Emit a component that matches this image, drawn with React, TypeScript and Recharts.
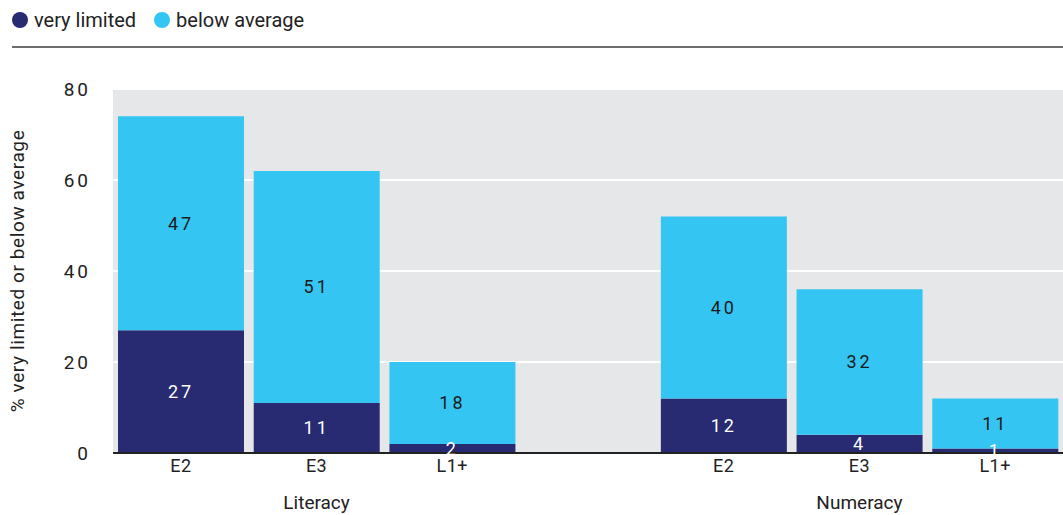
import React from 'react';
import { BarChart, Bar, XAxis, YAxis, CartesianGrid, LabelList } from 'recharts';

const categories = ['E2', 'E3', 'L1+', '', 'E2', 'E3', 'L1+'];
const groups = ['', 'Literacy', '', '', '', 'Numeracy', ''];
const veryLimited = [27, 11, 2, null, 12, 4, 1];
const belowAverage = [47, 51, 18, null, 40, 32, 11];
const yTicks = [0, 20, 40, 60, 80];

const NAVY = '#282a72';
const CYAN = '#34c5f2';
const FONT = 'Roboto, "DejaVu Sans", sans-serif';

const data = categories.map((c, i) => ({
  key: `${i}`,
  cat: c,
  group: groups[i],
  veryLimited: veryLimited[i],
  belowAverage: belowAverage[i],
}));

const CatTick = (props: any) => {
  const { x, y, payload } = props;
  const row = data[payload.index];
  if (!row) return null;
  return (
    <g>
      <text x={x} y={y + 11} textAnchor="middle" fontSize={18} fill="#222" fontFamily={FONT} letterSpacing={0.5}>
        {row.cat}
      </text>
      {row.group && (
        <text x={x} y={y + 48} textAnchor="middle" fontSize={19} fill="#222" fontFamily={FONT}>
          {row.group}
        </text>
      )}
    </g>
  );
};

const App: React.FC = () => {
  return (
    <div style={{ position: 'absolute', left: 0, top: 0, width: 1063, height: 515, background: '#fff', fontFamily: FONT }}>
      <div style={{ position: 'absolute', left: 12, top: 8, display: 'flex', alignItems: 'center', fontSize: 20, color: '#222' }}>
        <span style={{ width: 16, height: 16, borderRadius: 8, background: NAVY, display: 'inline-block', marginRight: 6 }} />
        <span style={{ marginRight: 18 }}>very limited</span>
        <span style={{ width: 16, height: 16, borderRadius: 8, background: CYAN, display: 'inline-block', marginRight: 6 }} />
        <span>below average</span>
      </div>
      <div style={{ position: 'absolute', left: 12, top: 46, width: 1051, height: 2, background: '#6d6d6d' }} />
      <div style={{ position: 'absolute', left: 0, top: 0 }}>
        <BarChart
          width={1063}
          height={515}
          data={data}
          margin={{ top: 89, right: 0, left: 0, bottom: 0 }}
          barCategoryGap={5}
        >
          <CartesianGrid fill="#e6e7e9" stroke="#ffffff" strokeWidth={2} vertical={false} />
          <XAxis
            dataKey="key"
            height={62}
            tickLine={false}
            axisLine={{ stroke: '#222', strokeWidth: 2 }}
            tick={<CatTick />}
            interval={0}
          />
          <YAxis
            width={113}
            domain={[0, 80]}
            ticks={yTicks}
            tickLine={false}
            axisLine={false}
            tickMargin={16}
            tick={{ fontSize: 19, fill: '#222', fontFamily: FONT, letterSpacing: 3 }}
            label={{
              value: '% very limited or below average',
              angle: -90,
              position: 'insideLeft',
              dx: 12,
              dy: 0,
              style: { textAnchor: 'middle', fontSize: 19, fill: '#222', fontFamily: FONT, letterSpacing: 0.6 },
            }}
          />
          <Bar dataKey="veryLimited" stackId="a" fill={NAVY} isAnimationActive={false}>
            <LabelList dataKey="veryLimited" position="center" fill="#fff" fontSize={18} fontFamily={FONT} letterSpacing={3} />
          </Bar>
          <Bar dataKey="belowAverage" stackId="a" fill={CYAN} isAnimationActive={false}>
            <LabelList dataKey="belowAverage" position="center" fill="#1a1a1a" fontSize={18} fontFamily={FONT} letterSpacing={3} />
          </Bar>
        </BarChart>
      </div>
    </div>
  );
};

export default App;
